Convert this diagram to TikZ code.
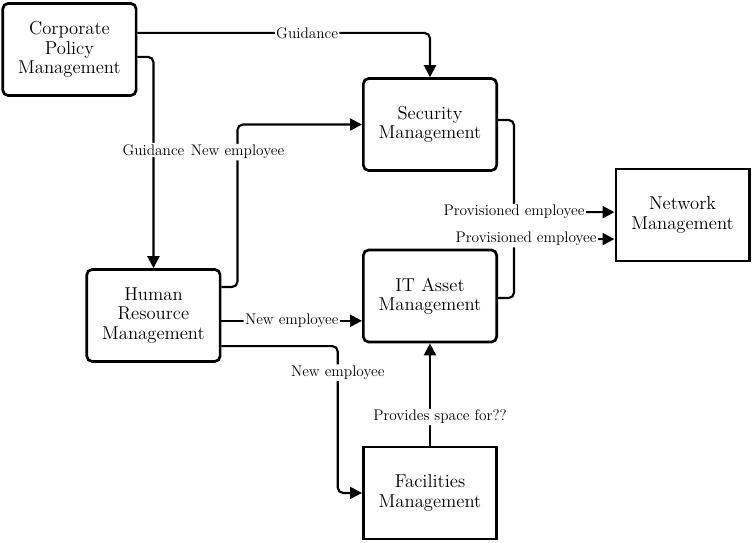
\documentclass[tikz,border=0pt]{standalone}
\usetikzlibrary{positioning, arrows.meta, calc}

\begin{document}
\begin{tikzpicture}
			% 定义样式
			\tikzstyle{block} = [draw, line width=2pt, rounded corners=4pt, minimum width=100pt, minimum height=69pt, align=center, font=\fontsize{14}{14.5}\selectfont]
			\tikzstyle{lbl} = [fill=white, inner sep=1pt, font=\fontsize{11.5}{13}\selectfont]
			\tikzstyle{arrow} = [line width=1.6pt, rounded corners=4pt, -{Triangle[length=9pt,width=9pt]}]
			
			\useasboundingbox (0,0) rectangle (564pt,-406.5pt);
			
			% 绘制节点
			\node [block] (corp) at (52.1pt,-37.1pt) {Corporate\\Policy\\Management};
			\node [block] (sec) at (322.5pt,-93.4pt) {Security\\Management};
			\node [block, below=57.6pt of sec] (it) {IT Asset\\Management};
			\node [block, sharp corners, below=76.7pt of it] (fac) {Facilities\\Management};
			\node [block] (hr) at (115.1pt,-236.6pt) {Human\\Resource\\Management};
			\node [block, sharp corners] (net) at (511.9pt,-161.3pt) {Network\\Management};
			
			% 绘制箭头
			\draw [arrow] ([yshift=12.4pt]corp.east) -| node[lbl, pos=0.29] {Guidance} (sec.north);
			\draw [arrow] ([yshift=-5.6pt]corp.east) -| node[lbl, pos=0.72] {Guidance} (hr.north);
			\draw [arrow] ([yshift=21.4pt]hr.east) -- ++(12pt,0) |- node[lbl, pos=0.415] {New employee} (sec.west);
			\draw [arrow] ([yshift=-4pt]hr.east) coordinate (hrit) -- node[lbl] {New employee} (hrit -| it.west);
			\draw [arrow] ([yshift=-23pt]hr.east) -| node[lbl, pos=0.59] {New employee} ($(fac.west)+(-18.2pt,0)$) -- (fac.west);
			\draw [arrow] (fac.north) -- node[lbl, pos=0.28, xshift=7.5pt] {Provides space for??} (it.south);
			\draw [arrow] ([yshift=3.4pt]sec.east) -- ++(12pt,0) |- node[lbl, pos=0.5] {Provisioned employee} ([yshift=2.2pt]net.west);
			\draw [arrow] ([yshift=-1.5pt]it.east) -- ++(12pt,0) |- node[lbl, pos=0.56] {Provisioned employee} ([yshift=-18pt]net.west);
		\end{tikzpicture}
\end{document}
